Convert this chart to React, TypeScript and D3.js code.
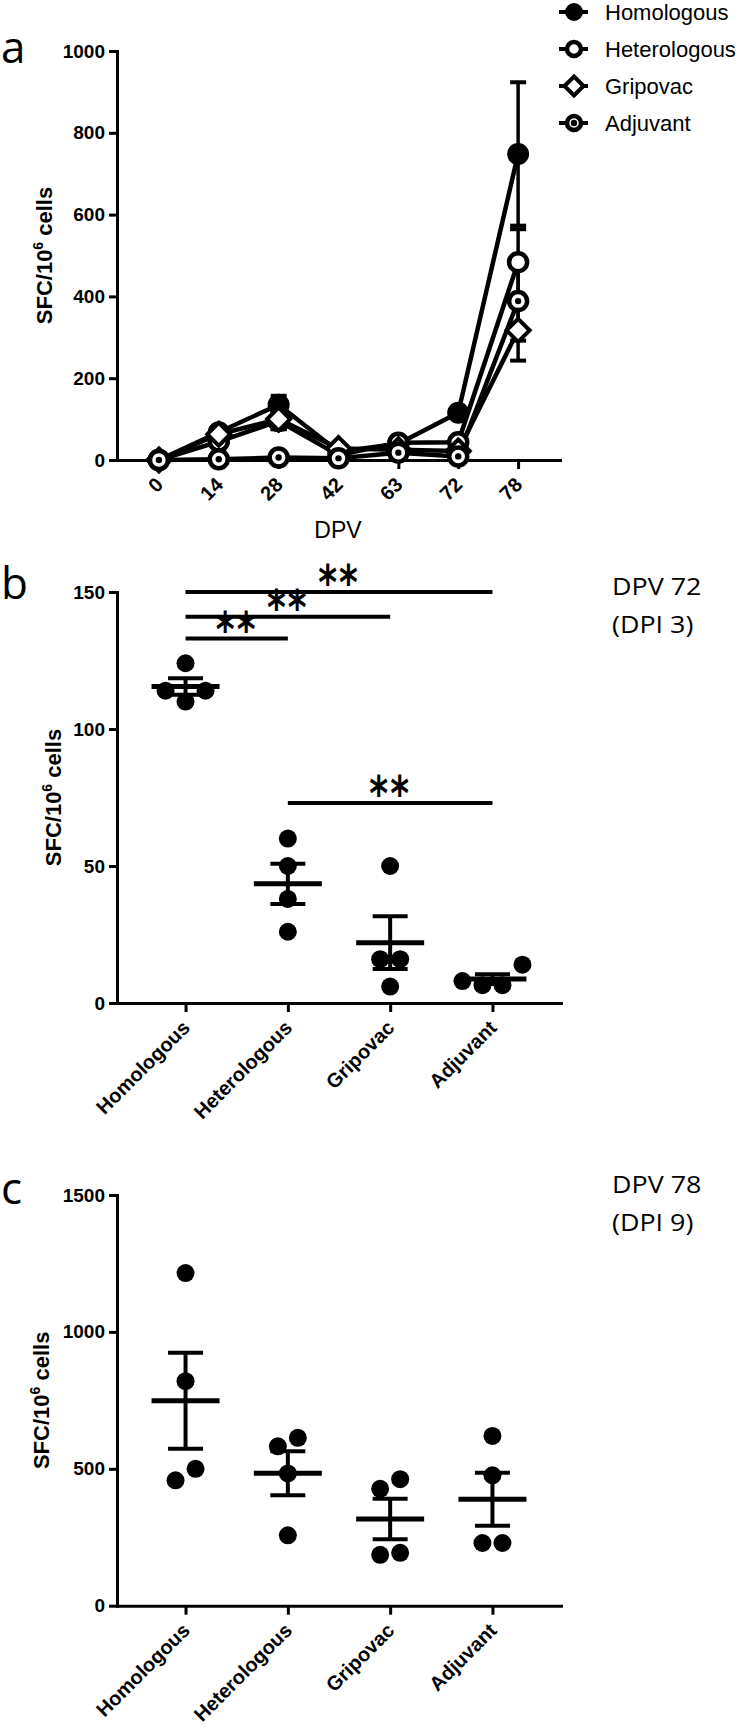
import { useEffect, useRef } from 'react';
import * as d3 from 'd3';

const dpvDays = ["0", "14", "28", "42", "63", "72", "78"];
const groupNames = ["Homologous", "Heterologous", "Gripovac", "Adjuvant"];
const markerKinds = ["filled", "open", "diamond", "dotted"];

// panel a, DPV 0..63 group means and SEM (DPV 72 and 78 come from the animals below)
const homologousEarly = [0, 68, 135, 20, 40];
const homologousEarlySem = [0, 12, 22, 5, 6];
const heterologousEarly = [0, 45, 95, 12, 42];
const heterologousEarlySem = [0, 10, 20, 4, 5];
const gripovacEarly = [0, 63, 100, 28, 25];
const gripovacEarlySem = [0, 15, 24, 8, 6];
const adjuvantEarly = [0, 2, 6, 4, 18];
const adjuvantEarlySem = [0, 1, 2, 1, 4];

// single animals, DPV 72 (DPI 3)
const dpv72Homologous = [124, 114, 114, 110];
const dpv72Heterologous = [60, 50, 38, 26];
const dpv72Gripovac = [50, 16, 16, 6];
const dpv72Adjuvant = [14, 8, 6.5, 6.5];

// single animals, DPV 78 (DPI 9)
const dpv78Homologous = [1215, 820, 500, 458];
const dpv78Heterologous = [613, 582, 483, 257];
const dpv78Gripovac = [462, 427, 193, 186];
const dpv78Adjuvant = [620, 476, 229, 229];

const ticksA = [0, 200, 400, 600, 800, 1000];
const ticksB = [0, 50, 100, 150];
const ticksC = [0, 500, 1000, 1500];

// significance bars of panel b
const sigFrom = ["Homologous", "Homologous", "Homologous", "Heterologous"];
const sigTo = ["Adjuvant", "Gripovac", "Heterologous", "Adjuvant"];
const sigLevel = [150, 141, 133, 73];
const sigText = "**";

const AXIS_FONT = "'Liberation Sans', Arial, sans-serif";
const NOTE_FONT = "'Open Sans', sans-serif";

const semOf = (v: number[]) => (d3.deviation(v) || 0) / Math.sqrt(v.length);

// spread points that sit at nearly the same height, center-out like Prism does
function swarmOffsets(values: number[], y: (v: number) => number, spacing = 20, near = 24) {
  const order = d3.range(values.length).sort((a, b) => values[a] - values[b]);
  const offsets = new Array(values.length).fill(0);
  let cluster: number[] = [];
  const flush = () => {
    const n = cluster.length;
    cluster.forEach((idx, k) => {
      let slot;
      if (n % 2) slot = k === 0 ? 0 : (k % 2 ? -Math.ceil(k / 2) : Math.ceil(k / 2));
      else slot = (k % 2 ? 1 : -1) * (Math.floor(k / 2) + 0.5);
      offsets[idx] = slot * spacing;
    });
    cluster = [];
  };
  order.forEach((idx, j) => {
    if (j > 0 && Math.abs(y(values[idx]) - y(values[order[j - 1]])) >= near) flush();
    cluster.push(idx);
  });
  flush();
  return offsets;
}

function styleAxis(g: any, size: number) {
  g.attr("font-family", AXIS_FONT).attr("font-size", size).attr("font-weight", "bold");
  g.select(".domain").attr("stroke", "#000").attr("stroke-width", 3).attr("stroke-linecap", "square");
  g.selectAll(".tick line").attr("stroke", "#000").attr("stroke-width", 3);
  g.selectAll(".tick text").attr("fill", "#000");
}

function rotateLabels(g: any) {
  g.selectAll(".tick text")
    .attr("x", 0)
    .attr("y", 0)
    .attr("dy", null)
    .attr("text-anchor", "end")
    .attr("transform", "translate(5,26) rotate(-45)");
}

function drawMarker(g: any, kind: string, cx: number, cy: number, r: number) {
  if (kind === "filled") {
    g.append("circle").attr("cx", cx).attr("cy", cy).attr("r", r + 1).attr("fill", "#000");
  } else if (kind === "diamond") {
    const s = r + 1.5;
    g.append("path")
      .attr("d", `M${cx},${cy - s}L${cx + s},${cy}L${cx},${cy + s}L${cx - s},${cy}Z`)
      .attr("fill", "#fff").attr("stroke", "#000").attr("stroke-width", 4).attr("stroke-linejoin", "miter");
  } else {
    g.append("circle").attr("cx", cx).attr("cy", cy).attr("r", r - 1)
      .attr("fill", "#fff").attr("stroke", "#000").attr("stroke-width", 4.5);
    if (kind === "dotted") {
      g.append("circle").attr("cx", cx).attr("cy", cy).attr("r", 3.2).attr("fill", "#000");
    }
  }
}

function yTitle(svg: any, x: number, cy: number) {
  const t = svg.append("text")
    .attr("transform", `translate(${x},${cy}) rotate(-90)`)
    .attr("text-anchor", "middle")
    .attr("font-family", AXIS_FONT)
    .attr("font-weight", "bold")
    .attr("font-size", 22)
    .attr("fill", "#000");
  t.append("tspan").text("SFC/10");
  t.append("tspan").attr("font-size", 14).attr("dy", -9).text("6");
  t.append("tspan").attr("dy", 9).text(" cells");
}

function panelLetter(svg: any, letter: string, y: number) {
  svg.append("text").attr("x", 1).attr("y", y)
    .attr("font-family", NOTE_FONT).attr("font-size", 44).attr("fill", "#000")
    .text(letter);
}

function note(svg: any, lines: string[], x: number, y: number) {
  lines.forEach((s, i) => {
    svg.append("text")
      .attr("transform", `translate(${x},${y + i * 38}) scale(1.12,1)`)
      .attr("font-family", NOTE_FONT).attr("font-size", 24).attr("fill", "#000")
      .text(s);
  });
}

function drawPanelA(svg: any) {
  const x = d3.scalePoint<string>().domain(dpvDays).range([117, 560]).padding(0.7);
  const y = d3.scaleLinear().domain([0, 1000]).range([460, 51]);

  const series = [
    { mean: [...homologousEarly, d3.mean(dpv72Homologous)!, d3.mean(dpv78Homologous)!],
      sem: [...homologousEarlySem, semOf(dpv72Homologous), semOf(dpv78Homologous)] },
    { mean: [...heterologousEarly, d3.mean(dpv72Heterologous)!, d3.mean(dpv78Heterologous)!],
      sem: [...heterologousEarlySem, semOf(dpv72Heterologous), semOf(dpv78Heterologous)] },
    { mean: [...gripovacEarly, d3.mean(dpv72Gripovac)!, d3.mean(dpv78Gripovac)!],
      sem: [...gripovacEarlySem, semOf(dpv72Gripovac), semOf(dpv78Gripovac)] },
    { mean: [...adjuvantEarly, d3.mean(dpv72Adjuvant)!, d3.mean(dpv78Adjuvant)!],
      sem: [...adjuvantEarlySem, semOf(dpv72Adjuvant), semOf(dpv78Adjuvant)] },
  ];

  svg.append("g").attr("transform", "translate(117,0)")
    .call(d3.axisLeft(y).tickValues(ticksA).tickFormat(d3.format("d")).tickSize(8).tickSizeOuter(0).tickPadding(4))
    .call(styleAxis, 19);
  svg.append("g").attr("transform", "translate(0,460)")
    .call(d3.axisBottom(x).tickSize(9).tickSizeOuter(0))
    .call(styleAxis, 20)
    .call(rotateLabels);

  const line = d3.line<number>().x((_, i) => x(dpvDays[i])!).y((d) => y(d));
  const plot = svg.append("g");

  series.forEach((s) => {
    plot.append("path").attr("d", line(s.mean)).attr("fill", "none")
      .attr("stroke", "#000").attr("stroke-width", 4.5).attr("stroke-linejoin", "round");
  });
  series.forEach((s) => {
    s.mean.forEach((m, i) => {
      if (!s.sem[i]) return;
      const cx = x(dpvDays[i])!;
      const lo = y(m - s.sem[i]);
      const hi = y(m + s.sem[i]);
      plot.append("line").attr("x1", cx).attr("x2", cx).attr("y1", lo).attr("y2", hi)
        .attr("stroke", "#000").attr("stroke-width", 3.5);
      [lo, hi].forEach((yy) => {
        plot.append("line").attr("x1", cx - 8).attr("x2", cx + 8).attr("y1", yy).attr("y2", yy)
          .attr("stroke", "#000").attr("stroke-width", 4);
      });
    });
  });
  series.forEach((s, k) => {
    s.mean.forEach((m, i) => drawMarker(plot, markerKinds[k], x(dpvDays[i])!, y(m), 10));
  });

  // legend
  groupNames.forEach((name, i) => {
    const cy = 12 + i * 37;
    svg.append("line").attr("x1", 559).attr("x2", 588).attr("y1", cy).attr("y2", cy)
      .attr("stroke", "#000").attr("stroke-width", 4);
    drawMarker(svg, markerKinds[i], 574, cy, 8);
    svg.append("text").attr("x", 605).attr("y", cy + 8)
      .attr("font-family", AXIS_FONT).attr("font-size", 22).attr("fill", "#000")
      .text(name);
  });

  svg.append("text").attr("x", 338).attr("y", 538).attr("text-anchor", "middle")
    .attr("font-family", AXIS_FONT).attr("font-size", 23).attr("fill", "#000")
    .text("DPV");
  yTitle(svg, 52, 255.5);
  panelLetter(svg, "a", 63);
}

function drawDotPanel(svg: any, opts: any) {
  const x = d3.scalePoint<string>().domain(groupNames).range([117, 561]).padding(0.67);
  const y = d3.scaleLinear().domain([0, opts.max]).range([opts.bottom, opts.top]);

  svg.append("g").attr("transform", "translate(117,0)")
    .call(d3.axisLeft(y).tickValues(opts.ticks).tickFormat(d3.format("d")).tickSize(8).tickSizeOuter(0).tickPadding(4))
    .call(styleAxis, 19);
  svg.append("g").attr("transform", `translate(0,${opts.bottom})`)
    .call(d3.axisBottom(x).tickSize(9).tickSizeOuter(0))
    .call(styleAxis, 20)
    .call(rotateLabels);

  const plot = svg.append("g");
  opts.data.forEach((vals: number[], i: number) => {
    const cx = x(groupNames[i])!;
    const offs = swarmOffsets(vals, y);
    vals.forEach((v, j) => {
      plot.append("circle").attr("cx", cx + offs[j]).attr("cy", y(v)).attr("r", 9).attr("fill", "#000");
    });
    const m = d3.mean(vals)!;
    const e = semOf(vals);
    plot.append("line").attr("x1", cx - 34).attr("x2", cx + 34).attr("y1", y(m)).attr("y2", y(m))
      .attr("stroke", "#000").attr("stroke-width", 5);
    plot.append("line").attr("x1", cx).attr("x2", cx).attr("y1", y(m - e)).attr("y2", y(m + e))
      .attr("stroke", "#000").attr("stroke-width", 4);
    [m - e, m + e].forEach((v) => {
      plot.append("line").attr("x1", cx - 17.5).attr("x2", cx + 17.5).attr("y1", y(v)).attr("y2", y(v))
        .attr("stroke", "#000").attr("stroke-width", 4);
    });
  });

  if (opts.sig) {
    sigLevel.forEach((lvl, i) => {
      const x1 = x(sigFrom[i])!;
      const x2 = x(sigTo[i])!;
      const yy = y(lvl);
      svg.append("line").attr("x1", x1).attr("x2", x2).attr("y1", yy).attr("y2", yy)
        .attr("stroke", "#000").attr("stroke-width", 4);
      svg.append("text")
        .attr("transform", `translate(${(x1 + x2) / 2},${yy + 7}) scale(1,1.35)`)
        .attr("text-anchor", "middle").attr("font-family", "'DejaVu Sans', sans-serif")
        .attr("font-size", 36).attr("font-weight", "bold").attr("letter-spacing", 2).attr("fill", "#000")
        .text(sigText);
    });
  }

  yTitle(svg, opts.titleX, (opts.top + opts.bottom) / 2);
  panelLetter(svg, opts.letter, opts.letterY);
  note(svg, opts.note, 612, opts.noteY);
}

export default function App() {
  const svgRef = useRef<SVGSVGElement>(null);

  useEffect(() => {
    document.body.style.margin = "0";
    const svg = d3.select(svgRef.current);
    svg.selectAll("*").remove();

    drawPanelA(svg);
    drawDotPanel(svg, {
      top: 592, bottom: 1003, max: 150, ticks: ticksB,
      data: [dpv72Homologous, dpv72Heterologous, dpv72Gripovac, dpv72Adjuvant],
      sig: true, titleX: 61, letter: "b", letterY: 599,
      note: ["DPV 72", "(DPI 3)"], noteY: 595,
    });
    drawDotPanel(svg, {
      top: 1195, bottom: 1605.7, max: 1500, ticks: ticksC,
      data: [dpv78Homologous, dpv78Heterologous, dpv78Gripovac, dpv78Adjuvant],
      sig: false, titleX: 49, letter: "c", letterY: 1204,
      note: ["DPV 78", "(DPI 9)"], noteY: 1193,
    });
  }, []);

  return (
    <svg ref={svgRef} width={738} height={1728} style={{ display: 'block', background: '#fff' }}></svg>
  );
}
